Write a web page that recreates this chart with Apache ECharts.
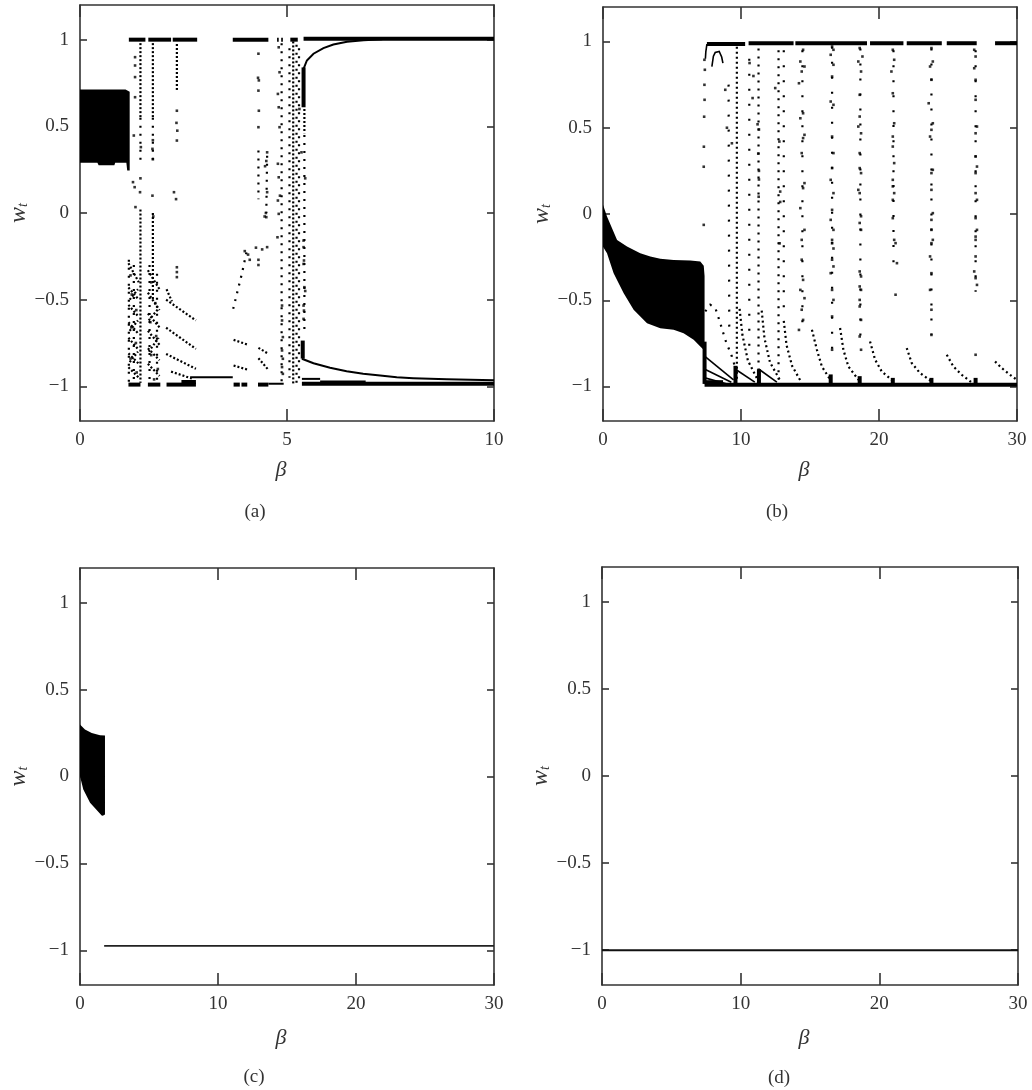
<!DOCTYPE html>
<html><head><meta charset="utf-8">
<script src="https://cdn.jsdelivr.net/npm/echarts@6/dist/echarts.min.js"></script>
<style>html,body{margin:0;padding:0;background:#fff}#c{width:1032px;height:1090px}</style>
</head><body><div id="c"></div>
<script>
// ---------- tick labels ----------
const yTicks = [-1, -0.5, 0, 0.5, 1];
const xTicksA = [0, 5, 10];
const xTicks30 = [0, 10, 20, 30];
const panelLabels = ['(a)', '(b)', '(c)', '(d)'];

// ---------- panel (a): beta 0..10 ----------
const aFill = [[0,0.713],[1.10,0.713],[1.20,0.700],[1.20,0.245],[1.14,0.245],[1.12,0.290],[0.85,0.290],[0.83,0.276],[0.45,0.276],[0.42,0.290],[0,0.290]];
const aThick = [
  [[1.18,1.0],[1.58,1.0]], [[1.65,1.0],[2.20,1.0]], [[2.24,1.0],[2.83,1.0]], [[3.69,1.0],[4.55,1.0]],
  [[4.76,1.0],[4.80,1.0]], [[4.86,1.0],[4.90,1.0]], [[5.08,1.0],[5.26,1.0]], [[5.40,1.005],[10,1.005]],
  [[1.17,-0.99],[1.46,-0.99]], [[1.64,-0.99],[1.94,-0.99]], [[2.09,-0.99],[2.80,-0.99]], [[2.45,-0.975],[2.80,-0.975]],
  [[3.71,-0.99],[3.86,-0.99]], [[3.90,-0.99],[4.04,-0.99]], [[4.30,-0.99],[4.55,-0.99]], [[5.36,-0.985],[10,-0.985]],
  [[5.40,0.84],[5.40,0.61]], [[5.38,-0.736],[5.38,-0.84]]
];
const aLine = [
  [[2.66,-0.947],[3.69,-0.947]], [[4.55,-0.985],[4.92,-0.985]],
  [[5.36,-0.957],[5.80,-0.957]], [[5.80,-0.972],[6.90,-0.972]],
  [[5.40,0.832],[5.48,0.88],[5.64,0.919],[5.88,0.951],[6.12,0.972],[6.45,0.988],[6.85,0.997],[7.3,1.003]],
  [[5.36,-0.841],[5.64,-0.867],[6.04,-0.893],[6.44,-0.913],[6.84,-0.928],[7.25,-0.938],[7.65,-0.948],[8.05,-0.953],[8.86,-0.959],[10,-0.965]]
];
const aDense = [
  [[1.46,0.98],[1.46,0.55]], [[1.46,0.02],[1.46,-0.98]], [[1.76,0.98],[1.76,0.55]], [[1.76,0.0],[1.76,-0.50]],
  [[2.34,0.975],[2.34,0.71]], [[5.15,0.99],[5.15,-0.99]], [[5.42,0.60],[5.42,0.46]],
  [[2.08,-0.50],[2.80,-0.62]], [[2.08,-0.662],[2.80,-0.784]], [[2.08,-0.813],[2.80,-0.899]], [[2.20,-0.915],[2.70,-0.955]], [[2.09,-0.44],[2.22,-0.51]],
  [[3.71,-0.732],[4.07,-0.761]], [[3.71,-0.880],[4.07,-0.905]], [[4.31,-0.778],[4.55,-0.812]], [[4.31,-0.838],[4.55,-0.905]],
  [[1.17,-0.29],[1.42,-0.40]], [[1.17,-0.43],[1.42,-0.50]], [[1.17,-0.53],[1.42,-0.60]], [[1.17,-0.63],[1.42,-0.70]],
  [[1.17,-0.72],[1.42,-0.79]], [[1.17,-0.81],[1.42,-0.87]], [[1.17,-0.89],[1.42,-0.95]],
  [[1.20,-0.50],[1.40,-0.44]], [[1.20,-0.68],[1.40,-0.62]], [[1.20,-0.86],[1.40,-0.80]],
  [[1.64,-0.33],[1.92,-0.44]], [[1.64,-0.46],[1.92,-0.56]], [[1.64,-0.58],[1.92,-0.66]], [[1.64,-0.68],[1.92,-0.76]],
  [[1.64,-0.78],[1.92,-0.85]], [[1.64,-0.87],[1.92,-0.94]], [[1.66,-0.62],[1.90,-0.55]], [[1.66,-0.80],[1.90,-0.72]]
];
const aSparse = [
  [[1.46,0.55],[1.46,0.30]], [[1.76,0.55],[1.76,0.30]], [[4.87,0.98],[4.87,-0.98]], [[5.23,0.97],[5.23,-0.98]],
  [[5.06,0.95],[5.06,-0.95]], [[5.29,0.95],[5.29,-0.97]], [[5.42,0.45],[5.42,-0.70]], [[4.31,0.36],[4.31,0.08]], [[4.52,0.33],[4.50,0.0]],
  [[1.18,-0.27],[1.18,-0.98]], [[1.30,-0.30],[1.30,-0.97]], [[1.68,-0.30],[1.68,-0.97]], [[1.86,-0.35],[1.86,-0.97]],
  [[3.70,-0.553],[3.79,-0.466],[3.91,-0.351],[4.03,-0.216]]
];
const aDots = [
  [1.33,0.899],[1.33,0.851],[1.33,0.784],[1.33,0.668],[1.30,0.447],[1.28,0.178],[1.32,0.149],[1.34,0.034],
  [1.47,0.38],[1.46,0.20],[1.45,0.12],[1.76,0.42],[1.75,0.37],[1.76,0.31],[1.75,0.10],[1.77,-0.02],
  [2.34,0.59],[2.33,0.52],[2.35,0.475],[2.34,0.418],[2.27,0.12],[2.32,0.08],[2.34,-0.313],[2.34,-0.341],[2.34,-0.37],
  [4.31,0.919],[4.30,0.78],[4.32,0.765],[4.31,0.706],[4.32,0.59],[4.31,0.495],
  [4.52,0.35],[4.50,0.30],[4.47,0.27],[4.52,0.12],[4.49,0.0],[4.46,-0.02],[4.50,-0.024],
  [4.80,0.956],[4.82,0.812],[4.78,0.687],[4.80,0.61],[4.82,0.495],[4.78,0.284],[4.80,0.206],[4.83,0.10],[4.78,0.072],[4.80,-0.005],[4.77,-0.14],
  [4.88,-0.534],[4.88,-0.62],[4.90,-0.716],[4.88,-0.793],[4.90,-0.841],[4.88,-0.889],[4.90,-0.928],
  [3.98,-0.22],[4.06,-0.24],[4.10,-0.27],[4.25,-0.20],[4.40,-0.21],[4.52,-0.197],[4.31,-0.30],[4.31,-0.27],
  [5.40,-0.159],[5.40,-0.197],[5.41,-0.274],[5.40,-0.294],[5.42,-0.428],[5.40,-0.534],[5.41,-0.563],[5.40,-0.611],
  [5.30,0.60],[5.35,0.35],[5.44,0.20],[5.44,-0.45],
  [1.22,-0.36],[1.25,-0.47],[1.36,-0.56],[1.24,-0.66],[1.35,-0.75],[1.22,-0.84],[1.37,-0.92],
  [1.72,-0.40],[1.82,-0.52],[1.70,-0.63],[1.84,-0.71],[1.72,-0.82],[1.88,-0.90],[1.79,-0.96]
];

// ---------- panel (b): beta 0..30 ----------
const bFill = [[0,0.053],[0.29,-0.014],[1.02,-0.15],[1.74,-0.188],[2.70,-0.227],[3.43,-0.246],[4.15,-0.26],[5.12,-0.266],[6.33,-0.27],[7.05,-0.275],[7.30,-0.30],[7.36,-0.36],[7.36,-0.74],[7.29,-0.787],[7.05,-0.768],[6.57,-0.729],[5.84,-0.691],[5.12,-0.671],[4.15,-0.662],[3.19,-0.633],[2.22,-0.555],[1.50,-0.459],[0.77,-0.343],[0.29,-0.227],[0,-0.19]];
const bThick = [
  [[7.53,0.985],[10.3,0.985]], [[10.55,0.99],[13.81,0.99]], [[13.94,0.99],[19.13,0.99]], [[19.35,0.99],[21.77,0.99]],
  [[22.01,0.99],[24.55,0.99]], [[24.91,0.99],[27.08,0.99]], [[28.41,0.99],[30,0.99]],
  [[7.36,-0.99],[30,-0.99]], [[7.36,-0.975],[8.7,-0.975]], [[7.36,-0.74],[7.36,-0.985]],
  [[9.6,-0.99],[9.6,-0.88]], [[11.3,-0.99],[11.3,-0.90]], [[16.5,-0.99],[16.5,-0.93]], [[18.6,-0.99],[18.6,-0.94]],
  [[21.0,-0.99],[21.0,-0.95]], [[23.8,-0.99],[23.8,-0.95]], [[27.0,-0.99],[27.0,-0.95]]
];
const bLine = [
  [[7.38,-0.826],[9.46,-0.961]], [[7.38,-0.90],[9.3,-0.975]], [[7.38,-0.95],[9.0,-0.985]],
  [[9.6,-0.90],[11.0,-0.975]], [[11.3,-0.90],[12.6,-0.975]],
  [[7.53,0.985],[7.45,0.94],[7.42,0.90]],
  [[7.89,0.855],[8.0,0.915],[8.13,0.936],[8.42,0.942],[8.6,0.91],[8.69,0.875]]
];
const bDense = [
  [[9.7,0.97],[9.7,-0.96]],
  [[9.9,-0.55],[10.1,-0.70],[10.5,-0.85],[11.2,-0.96]], [[11.5,-0.56],[11.7,-0.72],[12.1,-0.86],[12.8,-0.96]],
  [[13.1,-0.62],[13.3,-0.76],[13.7,-0.88],[14.3,-0.965]],
  [[15.14,-0.671],[15.5,-0.787],[15.86,-0.884],[16.47,-0.961]], [[17.18,-0.661],[17.42,-0.787],[17.78,-0.884],[18.51,-0.961]],
  [[19.35,-0.739],[19.72,-0.845],[20.2,-0.913],[21.05,-0.971]], [[22.01,-0.777],[22.37,-0.864],[22.97,-0.922],[23.82,-0.971]],
  [[24.91,-0.816],[25.39,-0.884],[25.99,-0.932],[26.72,-0.977]], [[28.41,-0.855],[28.89,-0.893],[29.49,-0.932],[29.98,-0.961]]
];
const bSparse = [
  [[7.41,-0.565],[7.77,-0.526],[8.14,-0.545],[8.5,-0.633],[8.86,-0.729],[9.34,-0.826],[9.7,-0.922]],
  [[11.27,0.96],[11.27,-0.96]], [[12.72,0.95],[12.72,-0.96]]
];
const bVerySparse = [
  [[9.1,0.75],[9.15,-0.70]], [[10.6,0.90],[10.6,-0.80]], [[13.1,0.95],[13.1,-0.60]],
  [[14.45,0.95],[14.45,-0.65]], [[16.6,0.97],[16.6,-0.80]], [[18.65,0.96],[18.65,-0.78]],
  [[21.05,0.95],[21.05,-0.30]], [[23.8,0.96],[23.8,-0.70]], [[27.0,0.95],[27.0,-0.45]]
];
const bDots = [
  [7.35,0.894],[7.38,0.836],[7.35,0.749],[7.36,0.662],[7.33,0.564],[7.31,0.39],[7.30,0.274],[7.30,-0.063],
  [8.86,0.72],[8.98,0.5],[9.34,0.41],[10.62,0.875],[10.9,0.80],[10.84,0.672],[12.48,0.73],[12.78,0.42],[12.84,0.13],[12.84,0.07],[12.8,-0.17],
  [11.2,0.52],[11.3,0.49],[11.25,0.35],[11.3,0.25],[11.3,0.2],[11.28,0.1],
  [14.5,0.952],[14.3,0.884],[14.6,0.855],[14.4,0.826],[14.2,0.758],[14.5,0.584],[14.3,0.555],[14.6,0.459],[14.5,0.44],[14.4,0.353],[14.6,0.179],[14.5,0.15],[14.3,0.034],[14.6,-0.092],[14.4,-0.15],
  [14.4,-0.265],[14.5,-0.382],[14.3,-0.44],[14.6,-0.488],[14.4,-0.555],[14.5,-0.614],[14.2,-0.672],
  [16.6,0.971],[16.7,0.952],[16.5,0.923],[16.7,0.865],[16.6,0.797],[16.5,0.652],[16.7,0.633],[16.6,0.449],[16.7,0.353],[16.6,0.266],[16.5,0.198],[16.7,0.121],[16.6,0.024],[16.5,-0.034],[16.7,-0.092],[16.6,-0.15],
  [16.6,-0.17],[16.7,-0.2],[16.6,-0.265],[16.7,-0.304],[16.5,-0.343],[16.6,-0.44],[16.7,-0.498],[16.6,-0.594],[16.6,-0.787],
  [18.6,0.962],[18.8,0.913],[18.5,0.884],[18.7,0.826],[18.6,0.691],[18.6,0.565],[18.5,0.507],[18.7,0.468],[18.6,0.353],[18.6,0.266],[18.7,0.237],[18.5,0.14],[18.6,0.121],[18.7,-0.013],[18.6,-0.052],[18.7,-0.092],
  [18.6,-0.333],[18.7,-0.362],[18.6,-0.42],[18.7,-0.44],[18.6,-0.498],[18.6,-0.536],[18.7,-0.614],[18.6,-0.71],[18.7,-0.787],
  [21.0,0.952],[21.1,0.894],[20.9,0.826],[21.0,0.7],[21.1,0.526],[21.0,0.449],[21.0,0.391],[21.1,0.295],[21.0,0.198],[21.0,0.16],[21.1,0.121],[21.0,0.082],[21.0,-0.024],[21.1,-0.15],[21.2,-0.169],[21.3,-0.285],[21.2,-0.468],
  [23.8,0.962],[23.9,0.884],[23.7,0.855],[23.8,0.778],[23.6,0.642],[23.9,0.526],[23.8,0.488],[23.7,0.449],[23.9,0.256],[23.8,0.237],[23.8,0.14],[23.9,0.005],[23.8,-0.034],[23.8,-0.092],[23.9,-0.15],
  [23.8,-0.169],[23.7,-0.246],[23.8,-0.343],[23.7,-0.44],[23.8,-0.555],[23.8,-0.701],
  [26.9,0.952],[27.0,0.913],[26.9,0.845],[27.0,0.778],[27.0,0.662],[27.1,0.507],[27.0,0.468],[27.0,0.333],[27.1,0.275],[27.0,0.237],[27.0,0.121],[27.1,0.082],[27.0,-0.024],[27.1,-0.092],[27.0,-0.131],
  [27.0,-0.15],[27.0,-0.246],[26.9,-0.333],[27.0,-0.372],[27.1,-0.411],[27.0,-0.816]
];

// ---------- panel (c) ----------
const cFill = [[0,0.30],[0.36,0.27],[0.85,0.251],[1.45,0.237],[1.81,0.236],[1.81,-0.218],[1.65,-0.226],[1.57,-0.224],[0.73,-0.151],[0.24,-0.075],[0,0.002]];
const cLine = [[[1.75,-0.975],[30,-0.975]]];

// ---------- panel (d) ----------
const dLine = [[[0,-1.0],[30,-1.0]]];

// ---------- build ----------
const FONT = 'Liberation Serif';
const AX = '#333';
const grids = [
  {left:80, top:5, width:414, height:416},
  {left:603, top:7, width:414, height:414},
  {left:80, top:568, width:414, height:417},
  {left:602, top:567, width:416, height:418}
];
const xMax = [10, 30, 30, 30];
const xInt = [5, 10, 10, 10];
const xNameGap = [38, 38, 42, 42];

const xAxes = [], yAxes = [];
grids.forEach((g, i) => {
  const common = {type:'value', gridIndex:i, min:0, max:xMax[i], interval:xInt[i],
    axisLine:{show:true, onZero:false, lineStyle:{color:AX, width:1.6}},
    axisTick:{show:true, inside:true, length:12, lineStyle:{color:AX, width:1.6}},
    splitLine:{show:false}};
  xAxes.push(Object.assign({}, common, {position:'bottom',
    axisLabel:{color:AX, fontFamily:FONT, fontSize:19, margin:10},
    name:'β', nameLocation:'middle', nameGap:xNameGap[i],
    nameTextStyle:{fontFamily:FONT, fontStyle:'italic', fontSize:22, color:AX, padding:[0,12,0,0]}}));
  xAxes.push(Object.assign({}, common, {position:'top', axisLabel:{show:false}}));
  const ycommon = {type:'value', gridIndex:i, min:-1.2, max:1.2,
    axisLine:{show:true, onZero:false, lineStyle:{color:AX, width:1.6}},
    axisTick:{show:true, inside:true, length:7, customValues:yTicks, lineStyle:{color:AX, width:1.6}},
    splitLine:{show:false}};
  yAxes.push(Object.assign({}, ycommon, {position:'left',
    axisLabel:{customValues:yTicks, color:AX, fontFamily:FONT, fontSize:19, margin:11,
      formatter: v => String(v).replace('-', '\u2212')},
    name:'{w|w}{t|t}', nameLocation:'middle', nameRotate:90, nameGap:46,
    nameTextStyle:{rich:{
      w:{fontFamily:FONT, fontStyle:'italic', fontSize:24, color:AX},
      t:{fontFamily:FONT, fontStyle:'italic', fontSize:14, color:AX, padding:[10,0,0,0]}
    }}}));
  yAxes.push(Object.assign({}, ycommon, {position:'right', axisLabel:{show:false}}));
});

function fillSeries(i, poly) {
  return {type:'custom', xAxisIndex:2*i, yAxisIndex:2*i, silent:true, animation:false, clip:true, z:3,
    data:[poly[0]],
    renderItem:(params, api) => ({type:'polygon', shape:{points: poly.map(q => api.coord(q))}, style:{fill:'#000'}})};
}
function linesSeries(i, list, width, dash, color) {
  return {type:'lines', coordinateSystem:'cartesian2d', xAxisIndex:2*i, yAxisIndex:2*i, polyline:true,
    silent:true, animation:false, z:4,
    data:list.map(c => ({coords:c})),
    lineStyle:{color:color || '#000', width:width, type:dash || 'solid', opacity:1, cap:'butt', curveness:0}};
}
function dotSeries(i, pts, size) {
  return {type:'scatter', xAxisIndex:2*i, yAxisIndex:2*i, data:pts, symbol:'rect', symbolSize:size,
    itemStyle:{color:'#000'}, silent:true, animation:false, z:5};
}

const series = [
  fillSeries(0, aFill),
  linesSeries(0, aThick, 4),
  linesSeries(0, aLine, 2),
  linesSeries(0, aDense, 2.2, [2,2]),
  linesSeries(0, aSparse, 2.2, [2,6]),
  dotSeries(0, aDots, 2.6),
  fillSeries(1, bFill),
  linesSeries(1, bThick, 4),
  linesSeries(1, bLine, 1.6),
  linesSeries(1, bDense, 2.2, [2,3]),
  linesSeries(1, bSparse, 2.2, [2,6]),
  linesSeries(1, bVerySparse, 2.2, [2,13]),
  dotSeries(1, bDots, 2.6),
  fillSeries(2, cFill),
  linesSeries(2, cLine, 1.8, 'solid', '#222'),
  linesSeries(3, dLine, 2, 'solid', '#111')
];

const labelPos = [[255,512],[777,512],[254,1077],[779,1078]];
const graphic = panelLabels.map((t, i) => ({type:'text', x:labelPos[i][0], y:labelPos[i][1],
  style:{text:t, fontFamily:FONT, fontSize:19, fill:AX, textAlign:'center', textVerticalAlign:'middle', align:'center', verticalAlign:'middle'}}));

const chart = echarts.init(document.getElementById('c'), null, {renderer:'canvas'});
chart.setOption({animation:false, backgroundColor:'#fff', grid:grids, xAxis:xAxes, yAxis:yAxes, series:series, graphic:graphic});
</script>
</body></html>
